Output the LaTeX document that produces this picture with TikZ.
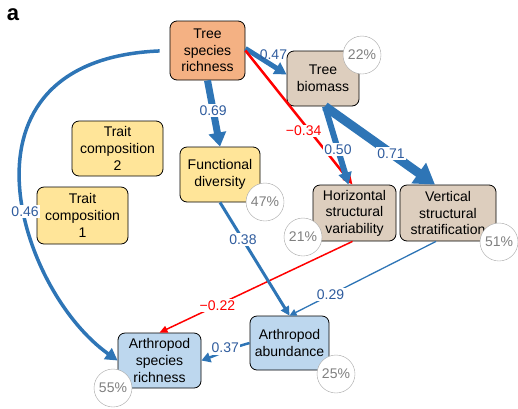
\documentclass[tikz,border=0pt]{standalone}
\usepackage{fontspec}
\setmainfont{Liberation Sans}
\usetikzlibrary{arrows.meta}
\definecolor{boxOrange}{RGB}{244, 177, 131}
\definecolor{boxYellow}{RGB}{255, 229, 153}
\definecolor{boxTan}{RGB}{221, 206, 190}
\definecolor{boxBlue}{RGB}{189, 215, 238}
\definecolor{linkBlue}{RGB}{46, 117, 182}
\definecolor{linkRed}{RGB}{255, 0, 0}
\definecolor{numBlue}{RGB}{47, 92, 158}
\definecolor{shareGray}{RGB}{128, 128, 128}

\begin{document}
\begin{tikzpicture}[x=1pt, y=-1pt,
    box/.style={draw, line width=0.8pt, rounded corners=7pt, align=center, inner sep=0pt,
      font=\fontsize{14}{16.6}\selectfont},
    share/.style={circle, draw=shareGray!70, fill=white, text=shareGray, minimum size=38pt,
      inner sep=0pt, font=\fontsize{14}{16}\selectfont},
    coef/.style={fill=white, inner sep=1.5pt, text=numBlue, font=\fontsize{14}{16}\selectfont},
    poslink/.style n args={3}{draw=linkBlue, line width=#1, -{Triangle[length=#2, width=#3]}},
    neglink/.style n args={3}{draw=linkRed, line width=#1, -{Triangle[length=#2, width=#3]}}]
    \useasboundingbox (0,0) rectangle (518,408);
    \node[font=\bfseries\fontsize{22}{22}\selectfont] (panel) at (13,15) {a};

    % boxes
    \node[box, fill=boxOrange, minimum width=75pt, minimum height=59pt] (tsr) at (207.5,50.5) {Tree\\species\\richness};
    \node[box, fill=boxTan, minimum width=72pt, minimum height=55pt] (tb) at (323,78.5) {Tree\\biomass};
    \node[box, fill=boxYellow, minimum width=80pt, minimum height=55pt] (fd) at (220,174.5) {Functional\\diversity};
    \node[box, fill=boxYellow, minimum width=91pt, minimum height=55pt] (tcTwo) at (117.5,148.5) {Trait\\composition\\2};
    \node[box, fill=boxYellow, minimum width=91pt, minimum height=57pt] (tcOne) at (82.5,215.5) {Trait\\composition\\1};
    \node[box, fill=boxTan, minimum width=83pt, minimum height=56pt] (hsv) at (354.5,213) {Horizontal\\structural\\variability};
    \node[box, fill=boxTan, minimum width=96pt, minimum height=56pt] (vss) at (448,213) {Vertical\\structural\\stratification};
    \node[box, fill=boxBlue, minimum width=79pt, minimum height=54pt] (aa) at (289.5,343) {Arthropod\\abundance};
    \node[box, fill=boxBlue, minimum width=83pt, minimum height=55pt] (asr) at (159.5,360.5) {Arthropod\\species\\richness};

    % paths
    \draw[poslink={3.5pt}{12pt}{13pt}, shorten <=10pt] (tsr.west) .. controls (-56,60) and (18,290) .. node[coef, pos=0.57] {0.46} (asr.west);
    \draw[poslink={7pt}{14pt}{17pt}] (tsr.south) -- node[coef, pos=0.45] {0.69} (fd.north);
    \draw[poslink={5pt}{12pt}{13pt}] ([yshift=2pt]tsr.east) -- node[coef, fill=none, pos=0.68, above=3pt] {0.47} ([yshift=4pt]tb.west);
    \draw[neglink={2.5pt}{10pt}{9pt}] (tsr.east) -- node[coef, text=linkRed, pos=0.6, xshift=-6pt] {−0.34} ([xshift=-2pt]hsv.north);
    \draw[poslink={6pt}{12pt}{13pt}] ([xshift=2pt]tb.south) -- node[coef, pos=0.55] {0.50} ([xshift=-6pt]hsv.north);
    \draw[poslink={9pt}{20pt}{24pt}] ([xshift=2pt]tb.south) -- node[coef, pos=0.6] {0.71} ([xshift=-13pt]vss.north);
    \draw[neglink={1.5pt}{8pt}{7pt}] ([xshift=-2pt]hsv.south) -- node[coef, text=linkRed, pos=0.7] {−0.22} (asr.north);
    \draw[poslink={3pt}{9pt}{9pt}] (fd.south) -- node[coef, pos=0.33] {0.38} (aa.north);
    \draw[poslink={1.3pt}{7pt}{7pt}] ([xshift=-12pt]vss.south) -- node[coef, pos=0.72] {0.29} (aa.north);
    \draw[poslink={2.5pt}{9pt}{10pt}] (aa.west) to[out=195, in=20] node[coef, pos=0.5, yshift=3pt] {0.37} (asr.east);

    % explained variance
    \node[share] (tbShare) at (362,55) {22\%};
    \node[share] (fdShare) at (265,202) {47\%};
    \node[share] (hsvShare) at (303,237) {21\%};
    \node[share] (vssShare) at (499,242) {51\%};
    \node[share] (aaShare) at (336,374) {25\%};
    \node[share] (asrShare) at (113,388) {55\%};
\end{tikzpicture}
\end{document}
